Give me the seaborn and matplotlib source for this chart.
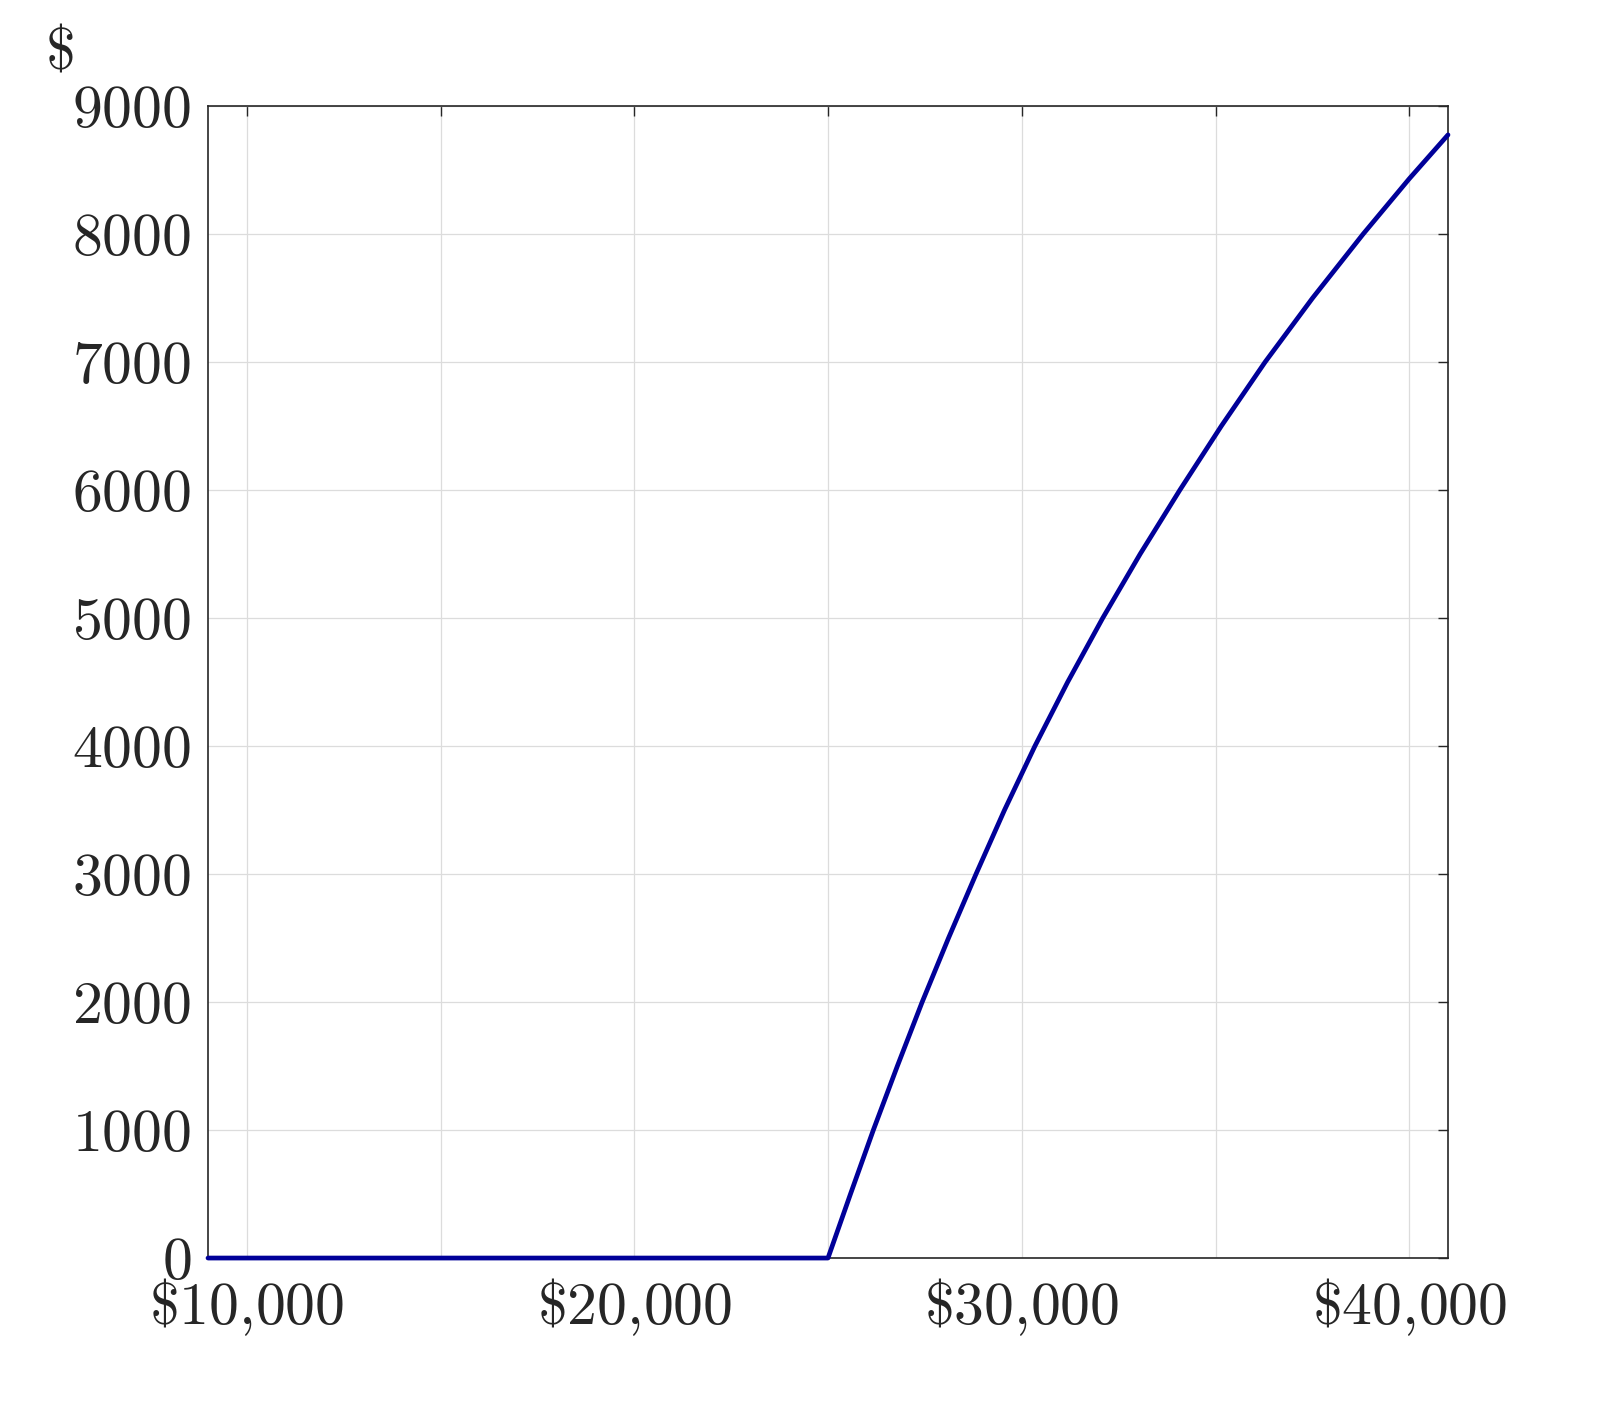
import matplotlib
matplotlib.use("Agg")
import matplotlib.pyplot as plt
import seaborn as sns

# Datos (ingreso en $, valor en $)
ingreso = [9000, 25000, 25580, 26170, 26790, 27430, 28110, 28820, 29555, 30340,
           31185, 32090, 33055, 34080, 35150, 36280, 37505, 38810, 40000, 41000]
valor = [0, 0, 500, 1000, 1500, 2000, 2500, 3000, 3500, 4000,
         4500, 5000, 5500, 6000, 6500, 7000, 7500, 8000, 8432, 8775]

ticks_x = [10000, 15000, 20000, 25000, 30000, 35000, 40000]
etiquetas_x = [r"$\$10{,}000$", "", r"$\$20{,}000$", "", r"$\$30{,}000$", "", r"$\$40{,}000$"]
ticks_y = [0, 1000, 2000, 3000, 4000, 5000, 6000, 7000, 8000, 9000]

# Estilo
sns.set_theme(style="whitegrid")
plt.rcParams["font.family"] = "serif"
plt.rcParams["font.serif"] = ["cmr10", "DejaVu Serif"]
plt.rcParams["mathtext.fontset"] = "cm"
plt.rcParams["axes.formatter.use_mathtext"] = True

fig = plt.figure(figsize=(8, 7.07), dpi=200)
ax = fig.add_axes([0.13, 0.1103, 0.775, 0.8147])

sns.lineplot(x=ingreso, y=valor, color="#000099", linewidth=1.7, ax=ax, clip_on=False, zorder=5)

ax.set_xlim(9000, 41000)
ax.set_ylim(0, 9000)
ax.set_xticks(ticks_x)
ax.set_xticklabels(etiquetas_x)
ax.set_yticks(ticks_y)
ax.set_yticklabels([r"$%d$" % v for v in ticks_y])

ax.grid(True, color="#dcdcdc", linewidth=0.45)
for s in ax.spines.values():
    s.set_visible(True)
    s.set_color("#262626")
    s.set_linewidth(0.6)
ax.tick_params(axis="both", direction="in", length=3.6, width=0.5, color="#262626",
               top=True, right=True, labelsize=21.5, labelcolor="#262626")
ax.tick_params(axis="x", pad=6.5)
ax.tick_params(axis="y", pad=6)

# Etiqueta del eje y arriba a la izquierda
fig.text(0.037, 0.962, r"$\$$", fontsize=21.5, color="#262626", ha="center", va="center")

fig.savefig("out.png", dpi=200, facecolor="white")
